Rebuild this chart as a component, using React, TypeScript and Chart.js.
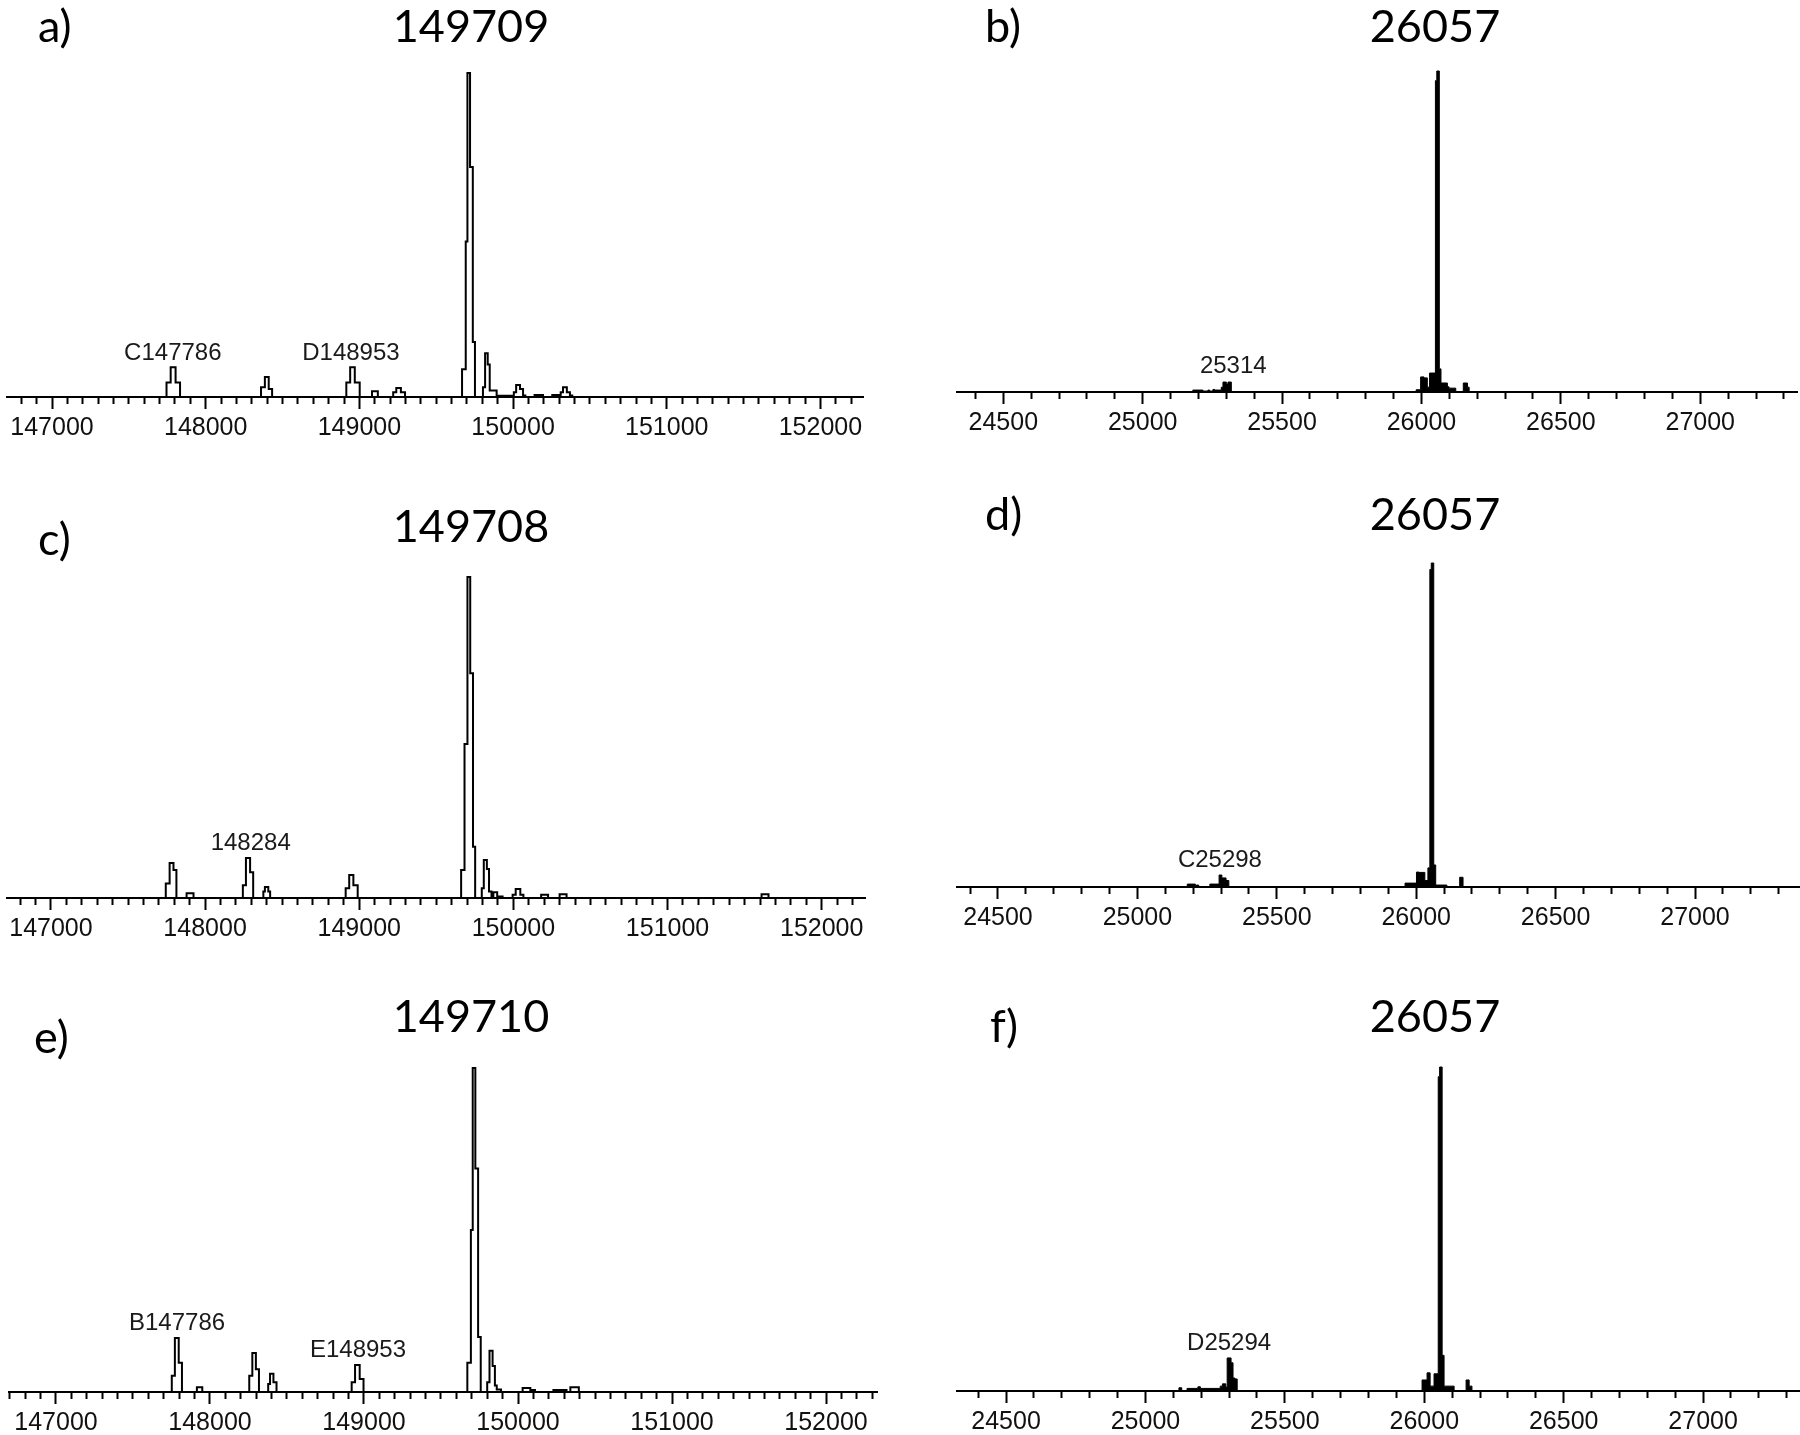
import React, { useEffect, useRef } from 'react';
import { Chart, registerables } from 'chart.js';

Chart.register(...registerables);

// ---------------- data (mass in Da, relative intensity in %) ----------------
// Each pair is [mass, intensity]; the trace is drawn as a step profile.
const panelA: [number, number][] = [
  [146707, 0], [147745, 4.5], [147772, 9.2], [147804, 4.5], [147833, 0],
  [148360, 3.0], [148385, 6.2], [148410, 2.5], [148432, 0],
  [148915, 4.5], [148940, 9.2], [148970, 4.5], [149002, 0],
  [149082, 1.8], [149120, 0],
  [149220, 1.5], [149240, 2.8], [149270, 1.5], [149297, 0],
  [149668, 8.6], [149692, 48], [149703, 100], [149720, 71], [149738, 17], [149752, 0],
  [149804, 3], [149818, 13.5], [149835, 10], [149848, 2], [149893, 0.4],
  [150005, 1.5], [150020, 3.7], [150045, 2.5], [150065, 0.5], [150080, 0],
  [150140, 0.6], [150195, 0],
  [150255, 0.6], [150310, 1.5], [150325, 3], [150350, 1.5], [150370, 0.5], [150385, 0],
  [152277, 0],
];

const panelB: [number, number][] = [
  [24334, 0], [25180, 0.6], [25216, 0.3], [25234, 0.6], [25240, 0.3], [25252, 0.8],
  [25258, 0.6], [25282, 1.5], [25288, 3.1], [25300, 2.5], [25306, 3.1], [25318, 0],
  [25981, 0.7], [25997, 4.7], [26009, 4.4], [26021, 1.5], [26029, 5.9], [26050, 97],
  [26055, 100], [26064, 7.2], [26070, 2.8], [26093, 1.6], [26099, 1.2], [26123, 0],
  [26150, 2.8], [26165, 1.5], [26171, 0], [27347, 0],
];

const panelC: [number, number][] = [
  [146715, 0], [147745, 4.5], [147770, 10.9], [147795, 8.7], [147814, 0],
  [147880, 1.5], [147925, 0],
  [148245, 4], [148265, 12.5], [148292, 8], [148312, 0],
  [148378, 2], [148388, 3.4], [148410, 2], [148422, 0],
  [148912, 3], [148935, 7.2], [148962, 4], [148990, 0],
  [149661, 8.7], [149683, 48], [149702, 100], [149720, 70], [149738, 16], [149752, 0],
  [149795, 3], [149808, 11.8], [149828, 9], [149842, 2], [149858, 0],
  [149870, 1.8], [149895, 0.5], [149930, 0],
  [149995, 1], [150015, 2.8], [150045, 1], [150065, 0],
  [150180, 1], [150225, 0],
  [150300, 1.2], [150345, 0],
  [151610, 1.2], [151655, 0],
  [152281, 0],
];

const panelD: [number, number][] = [
  [24353, 0], [25179, 0.9], [25208, 0], [25212, 0.6], [25220, 0], [25260, 0.9],
  [25293, 3.7], [25303, 2.8], [25318, 2], [25328, 0],
  [25960, 1.2], [26001, 4.6], [26010, 4.5], [26031, 2], [26042, 5.9], [26049, 98],
  [26054, 100], [26063, 6.8], [26070, 0.6], [26110, 0], [26156, 3], [26168, 0],
  [27373, 0],
];

const panelE: [number, number][] = [
  [146695, 0], [147752, 5], [147772, 16.7], [147797, 9], [147818, 0],
  [147915, 1.5], [147950, 0],
  [148255, 5], [148275, 12], [148298, 7], [148318, 0],
  [148378, 2.5], [148390, 5.6], [148412, 3], [148432, 0],
  [148920, 3], [148942, 8.3], [148972, 4], [148997, 0],
  [149671, 9], [149694, 50], [149706, 100], [149723, 69], [149741, 17], [149758, 0],
  [149800, 3], [149815, 12.7], [149835, 8], [149850, 2], [149862, 0.8], [149890, 0],
  [150030, 1.2], [150080, 0.6], [150110, 0],
  [150230, 0.6], [150315, 0],
  [150340, 1.5], [150395, 0],
  [152331, 0],
];

const panelF: [number, number][] = [
  [24324, 0], [25120, 1], [25130, 0], [25149, 0.8], [25188, 1.3], [25197, 0.8],
  [25268, 1.5], [25276, 2.2], [25288, 1.2], [25293, 10.2], [25307, 8.7], [25314, 4],
  [25321, 3.7], [25329, 0],
  [25992, 3.4], [26010, 5.6], [26021, 1.5], [26035, 5.3], [26050, 97], [26055, 100],
  [26064, 11], [26071, 1.5], [26107, 0], [26150, 3.4], [26161, 1.5], [26171, 0],
  [27344, 0],
];

// axis ranges [min, max]
const rangeA = [146707, 152277];
const rangeB = [24334, 27347];
const rangeC = [146715, 152281];
const rangeD = [24353, 27373];
const rangeE = [146695, 152331];
const rangeF = [24324, 27344];

// panel titles
const letters = ['a)', 'b)', 'c)', 'd)', 'e)', 'f)'];
const titles = ['149709', '26057', '149708', '26057', '149710', '26057'];

// peak annotations: [text, mass, intensity]
const labelsA: [string, number, number][] = [['C147786', 147786, 13.6], ['D148953', 148945, 13.6]];
const labelsB: [string, number, number][] = [['25314', 25325, 8.1]];
const labelsC: [string, number, number][] = [['148284', 148296, 17.1]];
const labelsD: [string, number, number][] = [['C25298', 25296, 8.3]];
const labelsE: [string, number, number][] = [['B147786', 147786, 21.3], ['E148953', 148961, 12.7]];
const labelsF: [string, number, number][] = [['D25294', 25300, 14.8]];

// tick steps
const minorStepLeft = 100;
const majorStepLeft = 1000;
const minorStepRight = 100;
const majorStepRight = 500;

// ---------------- layout (page pixels) ----------------
type Spec = {
  points: [number, number][];
  range: number[];
  labels: [string, number, number][];
  letter: string;
  title: string;
  filled: boolean;
  minor: number;
  major: number;
  cx: number; cy: number; w: number; h: number;
  areaL: number; areaR: number; areaT: number; areaB: number;
  letterX: number; letterY: number; titleX: number; titleY: number;
};

const specs: Spec[] = [
  { points: panelA, range: rangeA, labels: labelsA, letter: letters[0], title: titles[0], filled: false,
    minor: minorStepLeft, major: majorStepLeft,
    cx: 0, cy: 0, w: 900, h: 470, areaL: 7, areaR: 863, areaT: 73, areaB: 397,
    letterX: 38, letterY: 42, titleX: 471, titleY: 42 },
  { points: panelB, range: rangeB, labels: labelsB, letter: letters[1], title: titles[1], filled: true,
    minor: minorStepRight, major: majorStepRight,
    cx: 900, cy: 0, w: 900, h: 470, areaL: 957, areaR: 1797, areaT: 71, areaB: 392,
    letterX: 985, letterY: 42, titleX: 1435, titleY: 42 },
  { points: panelC, range: rangeC, labels: labelsC, letter: letters[2], title: titles[2], filled: false,
    minor: minorStepLeft, major: majorStepLeft,
    cx: 0, cy: 470, w: 900, h: 480, areaL: 7, areaR: 865, areaT: 577, areaB: 898,
    letterX: 38, letterY: 555, titleX: 471, titleY: 542 },
  { points: panelD, range: rangeD, labels: labelsD, letter: letters[3], title: titles[3], filled: true,
    minor: minorStepRight, major: majorStepRight,
    cx: 900, cy: 470, w: 900, h: 480, areaL: 957, areaR: 1799, areaT: 563, areaB: 887,
    letterX: 985, letterY: 530, titleX: 1435, titleY: 530 },
  { points: panelE, range: rangeE, labels: labelsE, letter: letters[4], title: titles[4], filled: false,
    minor: minorStepLeft, major: majorStepLeft,
    cx: 0, cy: 950, w: 900, h: 485, areaL: 9, areaR: 877, areaT: 1068, areaB: 1392,
    letterX: 34, letterY: 1053, titleX: 471, titleY: 1032 },
  { points: panelF, range: rangeF, labels: labelsF, letter: letters[5], title: titles[5], filled: true,
    minor: minorStepRight, major: majorStepRight,
    cx: 900, cy: 950, w: 900, h: 485, areaL: 957, areaR: 1799, areaT: 1067, areaB: 1391,
    letterX: 990, letterY: 1042, titleX: 1435, titleY: 1032 },
];

const TITLE_FONT = 'Lato, "Open Sans", sans-serif';
const AXIS_FONT = '"Liberation Sans", Arial, sans-serif';

const textPlugin = {
  id: 'panelText',
  afterDraw(chart: any, _args: any, opts: any) {
    const { ctx, scales } = chart;
    ctx.save();
    ctx.fillStyle = '#000';
    ctx.textBaseline = 'alphabetic';
    ctx.font = `45px ${TITLE_FONT}`;
    ctx.textAlign = 'left';
    ctx.fillText(opts.letter, opts.letterX, opts.letterY);
    ctx.textAlign = 'center';
    ctx.fillText(opts.title, opts.titleX, opts.titleY);
    ctx.font = `24px ${AXIS_FONT}`;
    ctx.fillStyle = '#1a1a1a';
    ctx.textBaseline = 'middle';
    for (const [text, x, y] of opts.labels as [string, number, number][]) {
      ctx.fillText(text, scales.x.getPixelForValue(x), scales.y.getPixelForValue(y));
    }
    ctx.restore();
  },
};

function Panel({ spec }: { spec: Spec }) {
  const ref = useRef<HTMLCanvasElement>(null);
  useEffect(() => {
    const canvas = ref.current;
    if (!canvas) return;
    const isMajor = (v: number) => Math.round(v) % spec.major === 0;
    const axisH = spec.cy + spec.h - spec.areaB;
    const chart = new Chart(canvas, {
      type: 'line',
      data: {
        datasets: [
          {
            data: spec.points.map(([x, y]) => ({ x, y })),
            borderColor: '#000',
            backgroundColor: '#000',
            borderWidth: spec.filled ? 1 : 2,
            fill: spec.filled ? 'origin' : false,
            pointRadius: 0,
            stepped: 'before',
            tension: 0,
            clip: false,
          } as any,
        ],
      },
      options: {
        animation: false,
        responsive: false,
        maintainAspectRatio: false,
        devicePixelRatio: 1,
        events: [],
        layout: {
          padding: {
            left: spec.areaL - spec.cx,
            right: spec.cx + spec.w - spec.areaR,
            top: spec.areaT - spec.cy,
            bottom: 0,
          },
        },
        plugins: {
          legend: { display: false },
          tooltip: { enabled: false },
          title: { display: false },
          panelText: {
            letter: spec.letter,
            title: spec.title,
            letterX: spec.letterX - spec.cx,
            letterY: spec.letterY - spec.cy,
            titleX: spec.titleX - spec.cx,
            titleY: spec.titleY - spec.cy,
            labels: spec.labels,
          },
        } as any,
        scales: {
          x: {
            type: 'linear',
            min: spec.range[0],
            max: spec.range[1],
            position: 'bottom',
            border: { display: true, color: '#000', width: 2 },
            grid: {
              display: true,
              drawOnChartArea: false,
              drawTicks: true,
              tickLength: 12,
              tickWidth: 2,
              tickColor: '#000',
              tickBorderDash: (c: any) => (c.tick && isMajor(c.tick.value) ? [] : [6, 40]),
            },
            ticks: {
              stepSize: spec.minor,
              autoSkip: false,
              includeBounds: false,
              maxRotation: 0,
              minRotation: 0,
              padding: 4,
              color: '#111',
              font: { family: AXIS_FONT, size: 25 },
              callback: (v: any) => (isMajor(Number(v)) ? String(v) : ''),
            },
            afterFit: (s: any) => {
              s.height = axisH;
            },
          } as any,
          y: { display: false, min: 0, max: 100 },
        },
      },
      plugins: [textPlugin as any],
    });
    return () => chart.destroy();
  }, [spec]);
  return (
    <canvas
      ref={ref}
      width={spec.w}
      height={spec.h}
      style={{ position: 'absolute', left: spec.cx, top: spec.cy, width: spec.w, height: spec.h }}
    />
  );
}

export default function App() {
  return (
    <div
      style={{
        position: 'absolute',
        left: 0,
        top: 0,
        width: 1800,
        height: 1435,
        background: '#fff',
        overflow: 'hidden',
      }}
    >
      {specs.map((s, i) => (
        <Panel key={i} spec={s} />
      ))}
    </div>
  );
}
